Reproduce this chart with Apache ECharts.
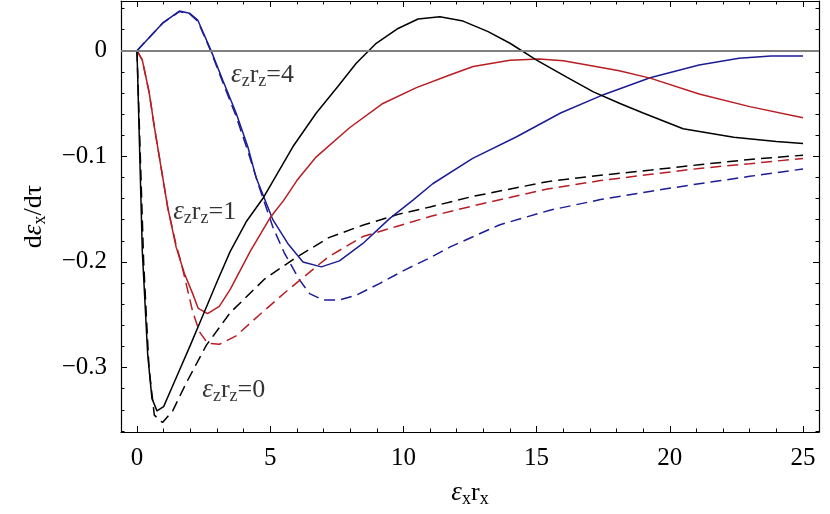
<!DOCTYPE html>
<html><head><meta charset="utf-8">
<script src="https://cdn.jsdelivr.net/npm/echarts@6/dist/echarts.min.js"></script>
<style>html,body{margin:0;padding:0;background:#fff}#c{width:830px;height:514px}</style>
</head><body><div id="c"></div>
<script>
// ---- data (x = εx rx, y = dεx/dτ) ----
const blackSolid = [[0,0],[0.2,-0.19],[0.4,-0.287],[0.56,-0.329],[0.75,-0.341],[1.0,-0.337],[1.5,-0.308],[2.0,-0.279],[2.5,-0.249],[3.0,-0.219],[3.5,-0.19],[4.1,-0.162],[4.75,-0.139],[5.85,-0.091],[6.73,-0.059],[7.54,-0.034],[8.23,-0.012],[8.98,0.007],[9.8,0.021],[10.55,0.030],[11.37,0.032],[12.24,0.028],[13.18,0.018],[14.0,0.007],[15.0,-0.009],[16.13,-0.025],[17.13,-0.039],[18.13,-0.05],[19.0,-0.059],[20.5,-0.074],[22.4,-0.082],[24.0,-0.086],[25,-0.088]];
const blackDashed = [[0,0],[0.25,-0.2],[0.45,-0.3],[0.65,-0.345],[0.96,-0.352],[1.34,-0.341],[1.84,-0.315],[2.6,-0.279],[3.5,-0.248],[4.8,-0.216],[5.9,-0.197],[7.2,-0.177],[8.5,-0.165],[9.8,-0.155],[11.0,-0.148],[12.6,-0.138],[15.4,-0.124],[17.4,-0.118],[19.3,-0.113],[21.1,-0.108],[23,-0.103],[25,-0.099]];
const redSolid = [[0,0],[0.2,-0.009],[0.46,-0.04],[0.65,-0.072],[0.9,-0.11],[1.15,-0.148],[1.47,-0.186],[1.78,-0.211],[2.09,-0.23],[2.3,-0.244],[2.65,-0.249],[3.09,-0.242],[3.5,-0.226],[4.25,-0.19],[5.0,-0.158],[5.5,-0.142],[6.0,-0.123],[6.73,-0.1005],[7.98,-0.073],[9.23,-0.05],[10.49,-0.035],[11.74,-0.023],[12.62,-0.015],[14,-0.009],[15.1,-0.008],[16,-0.0095],[16.9,-0.0135],[18.1,-0.019],[19.26,-0.026],[21.1,-0.041],[23,-0.053],[25,-0.0635]];
const redDashed = [[0,0],[0.2,-0.009],[0.46,-0.04],[0.65,-0.072],[0.9,-0.11],[1.15,-0.148],[1.45,-0.182],[1.65,-0.2],[1.84,-0.22],[2.09,-0.247],[2.34,-0.266],[2.65,-0.277],[3.09,-0.278],[3.72,-0.27],[4.6,-0.25],[5.6,-0.228],[6.8,-0.203],[7.2,-0.195],[8.48,-0.176],[9.8,-0.166],[11,-0.157],[12.6,-0.147],[15.4,-0.131],[17.4,-0.123],[19.3,-0.117],[21.1,-0.1115],[23,-0.107],[25,-0.102]];
const blueSolid = [[0,0],[0.96,0.026],[1.59,0.0375],[1.97,0.0355],[2.28,0.029],[2.78,0],[3.22,-0.028],[3.72,-0.059],[4.16,-0.091],[4.47,-0.12],[5.1,-0.16],[5.66,-0.1825],[6.23,-0.2],[6.92,-0.2047],[7.6,-0.199],[8.48,-0.1825],[9.48,-0.159],[10.36,-0.1415],[11.1,-0.126],[12.6,-0.102],[14.25,-0.0815],[15.9,-0.059],[17.38,-0.043],[19.26,-0.0256],[21.1,-0.0136],[22.6,-0.0072],[23.8,-0.005],[25,-0.005]];
const blueDashed = [[0,0],[0.96,0.026],[1.59,0.037],[1.97,0.035],[2.28,0.028],[2.78,-0.001],[3.22,-0.03],[3.72,-0.062],[4.16,-0.095],[4.6,-0.13],[5.1,-0.167],[5.54,-0.192],[6.1,-0.217],[6.48,-0.23],[6.98,-0.236],[7.6,-0.236],[8.23,-0.2315],[9.1,-0.2205],[10.1,-0.207],[11.0,-0.196],[11.74,-0.186],[13.6,-0.165],[15.5,-0.151],[17.4,-0.141],[19.3,-0.133],[21.1,-0.126],[23,-0.119],[25,-0.112]];
// curve labels: [x, y, value of εz rz]
const annotations = [[3.53,-0.023,'4'],[1.36,-0.153,'1'],[2.45,-0.3216,'0']];

const FONT = '"Liberation Serif","DejaVu Serif",serif';
const RED = '#b81d24', BLUE = '#1c1c96', BLACK = '#000';
const mainRich = {
  e: {fontFamily: FONT, fontSize: 26, lineHeight: 30, color: '#000'},
  g: {fontFamily: FONT, fontSize: 27, fontStyle: 'italic', lineHeight: 30, color: '#000'},
  s: {fontFamily: FONT, fontSize: 18, lineHeight: 16, verticalAlign: 'bottom', color: '#000'}
};
function fmtY(v){
  const k = v/0.1;
  if (Math.abs(k - Math.round(k)) > 1e-6) return '';
  if (Math.abs(v) < 1e-9) return '0';
  return (v < 0 ? '\u2212' : '') + Math.abs(v).toFixed(1);
}
function fmtX(v){
  const k = v/5;
  if (Math.abs(k - Math.round(k)) > 1e-6) return '';
  return String(Math.round(v));
}
function axisBase(pos, showLabel, fmt){
  return {
    type: 'value', position: pos,
    axisLine: {show: true, onZero: false, lineStyle: {color: '#000', width: 1.2}},
    axisTick: {show: true, inside: true, length: 6, lineStyle: {color: '#000', width: 1}},
    minorTick: {show: true, splitNumber: 5, length: 3.5, lineStyle: {color: '#000', width: 1}},
    splitLine: {show: false}, minorSplitLine: {show: false},
    axisLabel: {show: showLabel, formatter: fmt, fontFamily: FONT, fontSize: 25, color: '#000', margin: 14,
                showMinLabel: false, showMaxLabel: false}
  };
}
const xMin = -0.6, xMax = 25.6, yMin = -0.361, yMax = 0.047;
const xA = Object.assign(axisBase('bottom', true, fmtX), {min: xMin, max: xMax,
  name: '{g|ε}{s|x}{e|r}{s|x}', nameLocation: 'middle', nameGap: 46,
  nameTextStyle: {rich: mainRich}});
const xB = Object.assign(axisBase('top', false, fmtX), {min: xMin, max: xMax});
const yA = Object.assign(axisBase('left', true, fmtY), {min: yMin, max: yMax,
  name: '{e|d}{g|ε}{s|x}{e|/dτ}', nameLocation: 'middle', nameGap: 72,
  nameTextStyle: {rich: mainRich}});
const yB = Object.assign(axisBase('right', false, fmtY), {min: yMin, max: yMax});

function line(data, color, dashed, z){
  return {type: 'line', data: data, showSymbol: false, symbol: 'none', smooth: false,
    lineStyle: {color: color, width: 1.5, type: dashed ? [11, 6] : 'solid'},
    itemStyle: {color: color}, z: z, silent: true, animation: false};
}
const chart = echarts.init(document.getElementById('c'), null, {renderer: 'canvas'});
chart.setOption({
  animation: false,
  backgroundColor: '#fff',
  grid: {left: 121, right: 11, top: 1, bottom: 82, containLabel: false},
  xAxis: [xA, xB],
  yAxis: [yA, yB],
  series: [
    {type: 'line', data: [], z: 1, silent: true,
     markLine: {silent: true, symbol: 'none', animation: false, label: {show: false},
       lineStyle: {color: '#808080', width: 1.8, type: 'solid'}, data: [{yAxis: 0}]}},
    line(blueDashed, BLUE, true, 2),
    line(blueSolid, BLUE, false, 3),
    line(redDashed, RED, true, 2),
    line(redSolid, RED, false, 3),
    line(blackDashed, BLACK, true, 2),
    line(blackSolid, BLACK, false, 3),
    {type: 'scatter', symbolSize: 0, silent: true, z: 5,
     data: annotations.map(a => ({value: [a[0], a[1]], name: a[2]})),
     label: {show: true, position: 'right', distance: 0, color: '#000',
       formatter: p => '{g|ε}{s|z}{e|r}{s|z}{e|=' + p.name + '}', rich: mainRich}}
  ]
});
</script></body></html>
